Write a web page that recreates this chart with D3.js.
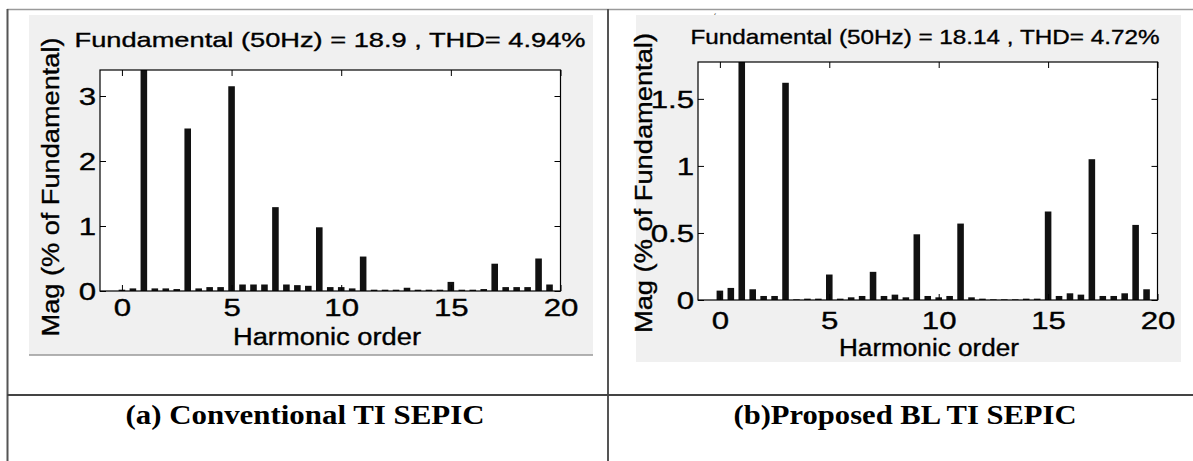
<!DOCTYPE html>
<html>
<head>
<meta charset="utf-8">
<script src="https://cdn.jsdelivr.net/npm/d3@7"></script>
<style>
  html, body { margin: 0; padding: 0; background: #ffffff; }
  svg { display: block; }
</style>
</head>
<body>
<svg id="chart" width="1193" height="461"></svg>
<script>
// ---------------- DATA ----------------
const harmonicOrder = [0, 0.5, 1, 1.5, 2, 2.5, 3, 3.5, 4, 4.5, 5, 5.5, 6, 6.5, 7, 7.5, 8, 8.5, 9, 9.5,
                       10, 10.5, 11, 11.5, 12, 12.5, 13, 13.5, 14, 14.5, 15, 15.5, 16, 16.5, 17, 17.5, 18, 18.5, 19, 19.5];
// (a) Conventional TI SEPIC, Mag (% of Fundamental)
const magConventional = [0.02, 0.04, 3.6, 0.04, 0.04, 0.03, 2.50, 0.04, 0.06, 0.06,
                         3.15, 0.10, 0.10, 0.10, 1.29, 0.10, 0.09, 0.08, 0.98, 0.06,
                         0.06, 0.04, 0.53, 0.02, 0.02, 0.02, 0.05, 0.02, 0.02, 0.02,
                         0.14, 0.02, 0.02, 0.03, 0.42, 0.06, 0.06, 0.06, 0.50, 0.10];
// (b) Proposed BL TI SEPIC
const magProposed = [0.07, 0.09, 1.9, 0.08, 0.03, 0.03, 1.62, 0.005, 0.01, 0.01,
                     0.19, 0.01, 0.02, 0.03, 0.21, 0.03, 0.04, 0.02, 0.49, 0.03,
                     0.02, 0.03, 0.57, 0.02, 0.01, 0.005, 0.005, 0.005, 0.01, 0.01,
                     0.66, 0.03, 0.05, 0.04, 1.05, 0.03, 0.03, 0.05, 0.56, 0.08];
const xTickValues = [0, 5, 10, 15, 20];
const yTicksConventional = [0, 1, 2, 3];
const yTicksProposed = [0, 0.5, 1, 1.5];
const yLimConventional = 3.4;
const yLimProposed = 1.775;
const titleConventional = "Fundamental (50Hz) = 18.9 , THD= 4.94%";
const titleProposed = "Fundamental (50Hz) = 18.14 , THD= 4.72%";
const xLabel = "Harmonic order";
const yLabel = "Mag (% of Fundamental)";
const captionConventional = "(a) Conventional TI SEPIC";
const captionProposed = "(b)Proposed BL TI SEPIC";

// ---------------- DRAW ----------------
const svg = d3.select("#chart");
const SANS = "Liberation Sans, Arial, sans-serif";

function stretch(sel, sx) {
  sel.each(function () {
    const l = this.getComputedTextLength();
    this.setAttribute("textLength", l * sx);
    this.setAttribute("lengthAdjust", "spacingAndGlyphs");
  });
}
function fit(sel, len) {
  sel.attr("textLength", len).attr("lengthAdjust", "spacingAndGlyphs");
}
function heavy(sel) {
  sel.attr("stroke", "#000").attr("stroke-width", 0.35);
}

// table lines
svg.append("line").attr("x1", 7).attr("x2", 1193).attr("y1", 9.5).attr("y2", 9.5)
  .attr("stroke", "#9a9a9a").attr("stroke-width", 1.5);
svg.append("line").attr("x1", 7.5).attr("x2", 7.5).attr("y1", 9).attr("y2", 461)
  .attr("stroke", "#555").attr("stroke-width", 2);
svg.append("line").attr("x1", 608).attr("x2", 608).attr("y1", 9).attr("y2", 461)
  .attr("stroke", "#555").attr("stroke-width", 2);
svg.append("line").attr("x1", 7).attr("x2", 1193).attr("y1", 395).attr("y2", 395)
  .attr("stroke", "#444").attr("stroke-width", 2);

function panel(cfg, idx) {
  const g = svg.append("g");
  // gray figure background
  g.append("rect").attr("x", cfg.bg[0]).attr("y", cfg.bg[1])
    .attr("width", cfg.bg[2] - cfg.bg[0]).attr("height", cfg.bg[3] - cfg.bg[1])
    .attr("fill", "#f0f0f0");
  if (cfg.bgLine) {
    g.append("line").attr("x1", cfg.bg[0]).attr("x2", cfg.bg[2])
      .attr("y1", cfg.bg[3]).attr("y2", cfg.bg[3]).attr("stroke", "#999").attr("stroke-width", 1.5);
  }
  const x = d3.scaleLinear().domain([-1, 20]).range([cfg.left, cfg.right]);
  const y = d3.scaleLinear().domain([0, cfg.ymax]).range([cfg.bottom, cfg.top]);

  g.append("rect").attr("x", cfg.left).attr("y", cfg.top)
    .attr("width", cfg.right - cfg.left).attr("height", cfg.bottom - cfg.top).attr("fill", "#fff");

  const clipId = "clip" + idx;
  g.append("clipPath").attr("id", clipId).append("rect")
    .attr("x", cfg.left).attr("y", cfg.top)
    .attr("width", cfg.right - cfg.left).attr("height", cfg.bottom - cfg.top);

  const bw = (x(0.5) - x(0)) * 0.6;
  g.append("g").attr("clip-path", `url(#${clipId})`)
    .selectAll("rect").data(cfg.values).join("rect")
    .attr("x", (d, i) => x(harmonicOrder[i]) - bw / 2)
    .attr("width", bw)
    .attr("y", d => y(d))
    .attr("height", d => y(0) - y(d))
    .attr("fill", "#111");

  const tick = 6;
  // bottom axis
  const gx = g.append("g").attr("transform", `translate(0,${cfg.bottom})`)
    .call(d3.axisBottom(x).tickValues(xTickValues).tickFormat(d3.format("d"))
      .tickSizeInner(-tick).tickSizeOuter(0).tickPadding(0));
  gx.select(".domain").remove();
  gx.selectAll("line").attr("stroke", "#000");
  gx.selectAll("text").attr("y", cfg.xLabelY - cfg.bottom).attr("dy", 0)
    .attr("font-family", SANS).attr("font-size", 24).attr("fill", "#000")
    .call(heavy).call(stretch, 1.3);
  // top axis
  const gt = g.append("g").attr("transform", `translate(0,${cfg.top})`)
    .call(d3.axisTop(x).tickValues(xTickValues).tickFormat("").tickSizeInner(-tick).tickSizeOuter(0));
  gt.select(".domain").remove();
  gt.selectAll("line").attr("stroke", "#000");
  // left axis
  const gy = g.append("g").attr("transform", `translate(${cfg.left},0)`)
    .call(d3.axisLeft(y).tickValues(cfg.yTicks).tickFormat(d => String(d))
      .tickSizeInner(-tick).tickSizeOuter(0).tickPadding(0));
  gy.select(".domain").remove();
  gy.selectAll("line").attr("stroke", "#000");
  gy.selectAll("text").attr("x", -4).attr("dy", "0.36em")
    .attr("font-family", SANS).attr("font-size", 24).attr("fill", "#000")
    .call(heavy).call(stretch, 1.3);
  // right axis
  const gr = g.append("g").attr("transform", `translate(${cfg.right},0)`)
    .call(d3.axisRight(y).tickValues(cfg.yTicks).tickFormat("").tickSizeInner(-tick).tickSizeOuter(0));
  gr.select(".domain").remove();
  gr.selectAll("line").attr("stroke", "#000");

  // frame
  g.append("rect").attr("x", cfg.left).attr("y", cfg.top)
    .attr("width", cfg.right - cfg.left).attr("height", cfg.bottom - cfg.top)
    .attr("fill", "none").attr("stroke", "#000").attr("stroke-width", 1.2);

  // title
  g.append("text").attr("x", cfg.titleX).attr("y", cfg.titleY).attr("text-anchor", "middle")
    .attr("font-family", SANS).attr("font-size", 21).attr("fill", "#000")
    .text(cfg.title).call(heavy).call(fit, cfg.titleLen);
  // x label
  g.append("text").attr("x", cfg.xlabX).attr("y", cfg.xlabY).attr("text-anchor", "middle")
    .attr("font-family", SANS).attr("font-size", 23).attr("fill", "#000")
    .text(xLabel).call(heavy).call(fit, cfg.xlabLen);
  // y label
  g.append("text").attr("transform", `translate(${cfg.ylabX},${cfg.ylabY}) rotate(-90)`)
    .attr("text-anchor", "middle").attr("dy", "0.35em")
    .attr("font-family", SANS).attr("font-size", 23).attr("fill", "#000")
    .text(yLabel).call(heavy).call(fit, cfg.ylabLen);
  // caption
  svg.append("text").attr("x", cfg.capX).attr("y", 424).attr("text-anchor", "middle")
    .attr("font-family", "Liberation Serif, Times New Roman, serif").attr("font-weight", "bold")
    .attr("font-size", 27).attr("fill", "#000")
    .text(cfg.caption).call(fit, cfg.capLen);
}

panel({
  bg: [29, 15, 593, 355], bgLine: true,
  left: 100, right: 560.5, top: 70, bottom: 291, ymax: yLimConventional,
  values: magConventional, yTicks: yTicksConventional,
  xLabelY: 316,
  title: titleConventional, titleX: 330, titleY: 47, titleLen: 511,
  xlabX: 327, xlabY: 345, xlabLen: 188,
  ylabX: 51, ylabY: 187, ylabLen: 299,
  caption: captionConventional, capX: 305, capLen: 359
}, 0);

panel({
  bg: [636, 15, 1181, 362], bgLine: false,
  left: 698, right: 1157.5, top: 62, bottom: 300, ymax: yLimProposed,
  values: magProposed, yTicks: yTicksProposed,
  xLabelY: 329,
  title: titleProposed, titleX: 925, titleY: 44, titleLen: 469,
  xlabX: 929, xlabY: 356, xlabLen: 180,
  ylabX: 644, ylabY: 183, ylabLen: 300,
  caption: captionProposed, capX: 905, capLen: 343
}, 1);

// small stray mark above the right title
svg.append("text").attr("x", 715).attr("y", 22).attr("text-anchor", "middle")
  .attr("font-family", SANS).attr("font-size", 10).attr("fill", "#333")
  .text("ˊ");
</script>
</body>
</html>
